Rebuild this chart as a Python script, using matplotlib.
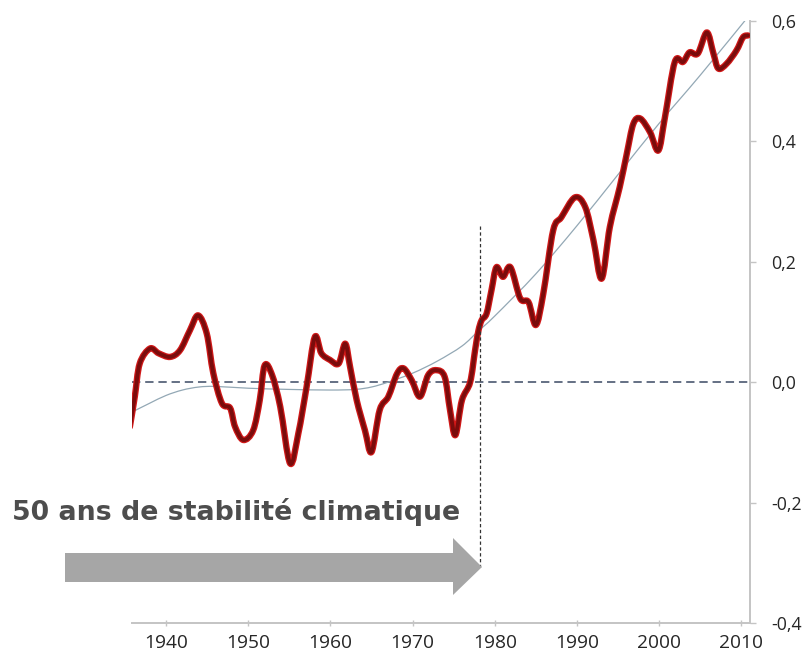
import matplotlib
matplotlib.use("Agg")
import matplotlib.pyplot as plt
from matplotlib.patches import Polygon, PathPatch
from matplotlib.path import Path

plt.rcParams['lines.scale_dashes'] = False

# ---- data ----
years_red = [1935.6, 1936.2, 1936.8, 1938.05, 1939.1, 1940.5, 1941.7, 1942.9, 1943.9,
             1944.95, 1945.75, 1946.8, 1947.8, 1948.4, 1949.4, 1950.6, 1951.4, 1952.0,
             1952.9, 1953.9, 1955.1, 1956.1, 1957.1, 1958.1, 1958.9, 1959.95, 1961.0,
             1961.8, 1962.4, 1963.2, 1964.2, 1965.0, 1966.0, 1967.05, 1968.1, 1968.9,
             1969.9, 1970.9, 1971.9, 1972.9, 1973.9, 1974.55, 1975.2, 1976.0, 1977.0,
             1977.6, 1978.0, 1978.4, 1979.0, 1979.6, 1980.2, 1981.0, 1981.9, 1983.1,
             1984.1, 1985.0, 1985.9, 1987.1, 1988.1, 1989.75, 1991.0, 1992.0, 1993.0,
             1994.0, 1995.2, 1996.05, 1996.85, 1997.7, 1998.9, 1999.9, 2000.7, 2001.9,
             2002.9, 2003.7, 2004.7, 2005.8, 2006.6, 2007.2, 2008.2, 2009.4, 2010.2, 2010.8]
temp_red = [-0.074, -0.024, 0.031, 0.056, 0.048, 0.042, 0.053, 0.086, 0.111,
            0.081, 0.015, -0.035, -0.043, -0.074, -0.096, -0.080, -0.030, 0.028,
            0.012, -0.041, -0.135, -0.085, -0.008, 0.075, 0.048, 0.037, 0.031,
            0.064, 0.025, -0.030, -0.080, -0.116, -0.046, -0.024, 0.014, 0.023,
            0.003, -0.024, 0.012, 0.020, 0.009, -0.046, -0.088, -0.030, 0.000,
            0.053, 0.085, 0.103, 0.114, 0.153, 0.191, 0.175, 0.191, 0.139,
            0.133, 0.095, 0.147, 0.252, 0.274, 0.307, 0.291, 0.236, 0.172,
            0.258, 0.324, 0.379, 0.429, 0.438, 0.415, 0.385, 0.440, 0.532,
            0.532, 0.548, 0.546, 0.581, 0.546, 0.521, 0.529, 0.551, 0.573, 0.576]

years_trend = [1935.8, 1938, 1940, 1942, 1944, 1946, 1950, 1955, 1960, 1963, 1965, 1967,
               1970, 1973, 1976, 1978, 1980, 1985, 1990, 1995, 2000, 2005, 2011]
temp_trend = [-0.05, -0.035, -0.022, -0.013, -0.008, -0.007, -0.010, -0.012, -0.013,
              -0.012, -0.008, 0.0, 0.015, 0.035, 0.06, 0.085, 0.11, 0.18, 0.26, 0.345,
              0.43, 0.51, 0.61]

x_ticks = [1940, 1950, 1960, 1970, 1980, 1990, 2000, 2010]
y_ticks = [-0.4, -0.2, 0.0, 0.2, 0.4, 0.6]
y_tick_labels = ["-0,4", "-0,2", "0,0", "0,2", "0,4", "0,6"]

break_year = 1978.15
break_top = 0.26
break_bottom = -0.307
annotation = "50 ans de stabilité climatique"


def smooth_path(xs, ys):
    """Excel-like smoothed line: Catmull-Rom segments rendered as cubic Beziers."""
    n = len(xs)
    verts = [(xs[0], ys[0])]
    codes = [Path.MOVETO]
    for i in range(n - 1):
        x0, y0 = (xs[i - 1], ys[i - 1]) if i > 0 else (xs[i], ys[i])
        x1, y1 = xs[i], ys[i]
        x2, y2 = xs[i + 1], ys[i + 1]
        x3, y3 = (xs[i + 2], ys[i + 2]) if i + 2 < n else (xs[i + 1], ys[i + 1])
        c1 = (x1 + (x2 - x0) / 6.0, y1 + (y2 - y0) / 6.0)
        c2 = (x2 - (x3 - x1) / 6.0, y2 - (y3 - y1) / 6.0)
        verts += [c1, c2, (x2, y2)]
        codes += [Path.CURVE4] * 3
    return Path(verts, codes)


# ---- figure ----
W, H = 808, 655
fig = plt.figure(figsize=(W / 100, H / 100), dpi=100)
fig.patch.set_facecolor('white')
ax = fig.add_axes([132 / W, (H - 623) / H, (750 - 132) / W, (623 - 21) / H])

ax.set_xlim(1935.86, 2011.05)
ax.set_ylim(-0.4, 0.6)

ax.axhline(0, color='#4a5870', lw=1.2, dashes=(6, 3.5), zorder=2)
ax.add_patch(PathPatch(smooth_path(years_trend, temp_trend), facecolor='none',
                       edgecolor='#93a8b5', lw=0.9, zorder=3))
red_path = smooth_path(years_red, temp_red)
ax.add_patch(PathPatch(red_path, facecolor='none', edgecolor='#d01818', lw=4.6,
                       joinstyle='round', capstyle='round', zorder=4))
ax.add_patch(PathPatch(red_path, facecolor='none', edgecolor='#7a0c0c', lw=2.8,
                       joinstyle='round', capstyle='round', zorder=5))
ax.plot([break_year, break_year], [break_top, break_bottom], color='#333333', lw=0.9,
        dashes=(2.4, 1.8), zorder=6)

for s in ['left', 'top']:
    ax.spines[s].set_visible(False)
for s in ['bottom', 'right']:
    ax.spines[s].set_color('#c4c4c4')
    ax.spines[s].set_linewidth(1.4)

ax.yaxis.tick_right()
ax.set_xticks(x_ticks)
ax.set_xticklabels([str(y) for y in x_ticks], fontfamily='Open Sans', fontsize=13.8,
                   color='#262626')
ax.set_yticks(y_ticks)
ax.set_yticklabels(y_tick_labels, fontfamily='Open Sans', fontsize=12.8, color='#262626')
ax.tick_params(axis='x', direction='inout', length=5, width=1, color='#c4c4c4', pad=5.5)
ax.tick_params(axis='y', direction='out', length=4, width=1, color='#c4c4c4', pad=11)

# grey arrow (figure pixel coordinates)
pts = [(65, 553), (453, 553), (453, 538), (482, 567), (453, 595), (453, 582), (65, 582)]
arrow = Polygon([(x / W, (H - y) / H) for x, y in pts], closed=True,
                transform=fig.transFigure, facecolor='#a6a6a6', edgecolor='none', zorder=1)
fig.patches.append(arrow)

fig.text(12 / W, (H - 520) / H, annotation, fontfamily='DejaVu Sans', fontweight='bold',
         fontsize=19.3, color='#4d4d4d', ha='left', va='baseline')

fig.savefig('out.png', dpi=100, facecolor='white')
